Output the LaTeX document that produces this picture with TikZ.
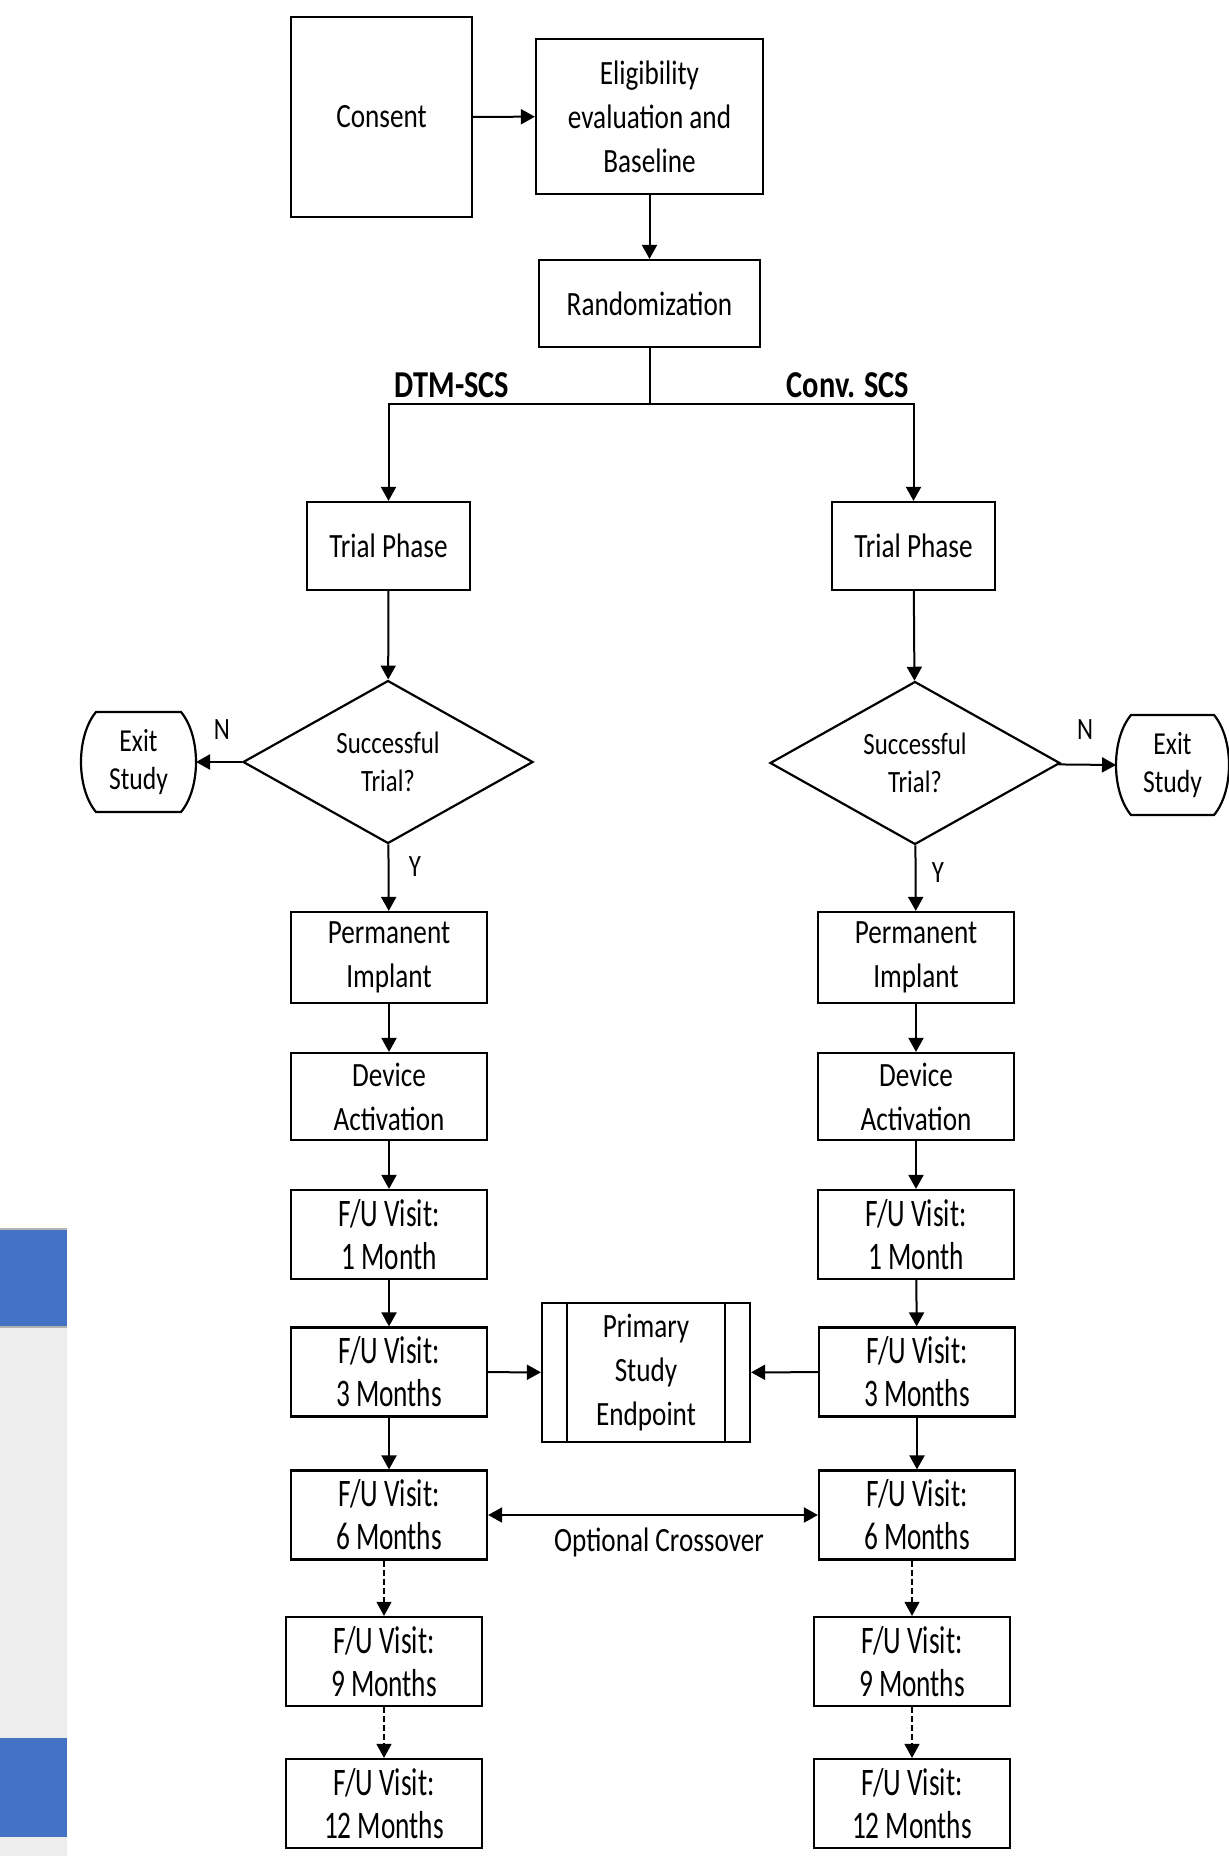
\documentclass[tikz,border=0pt]{standalone}
\usepackage{fontspec}
\setmainfont{Carlito}[FakeStretch=0.8]
\newfontfamily\fufont{Carlito}[FakeStretch=0.7]
\usepackage{tikz}
\usetikzlibrary{arrows.meta, shapes.geometric}
\definecolor{barblue}{HTML}{4472C4}
\definecolor{bargray}{HTML}{EDEDED}

\begin{document}
\begin{tikzpicture}[x=0.5pt, y=-0.5pt, >={Triangle[length=7pt,width=7.5pt]}, line width=1pt,
    box/.style={draw, line width=1.1pt, align=center, inner sep=0pt, minimum width=98pt,
      minimum height=44.5pt, font=\fontsize{17}{22}\selectfont},
    fubox/.style={box, font=\fufont\fontsize{19.5}{21.5}\selectfont},
    decision/.style={diamond, draw, line width=1.1pt, align=center, inner sep=0pt,
      minimum width=145pt, minimum height=80pt, font=\fontsize{15.5}{19}\selectfont},
    exitbox/.style={align=center, inner sep=0pt, minimum width=41.5pt, minimum height=49pt,
      font=\fontsize{16}{19}\selectfont},
    yn/.style={inner sep=0pt, font=\fontsize{15.5}{19}\selectfont},
    arm/.style={inner sep=0pt, font=\bfseries\fontsize{19}{22}\selectfont},
    dashedarrow/.style={->, dash pattern=on 3pt off 1.5pt, line width=0.6pt}]
        \useasboundingbox (0,0) rectangle (1228,1856);
        % side bars
        \fill[barblue] (0,1229) rectangle (67,1327);
        \fill[bargray] (0,1327) rectangle (67,1738);
        \fill[barblue] (0,1738) rectangle (67,1837);
        \fill[bargray] (0,1837) rectangle (67,1856);
        \draw[gray!60, line width=0.8pt] (0,1229) -- (67,1229) (0,1327) -- (67,1327);
        % enrolment
        \node[box, minimum width=90.5pt, minimum height=100pt] (consent) at (381.5,117) {Consent};
        \node[box, minimum width=113.5pt, minimum height=77.5pt] (elig) at (649.5,116.5) {Eligibility\\evaluation and\\Baseline};
        \node[box, minimum width=110.5pt, minimum height=43.5pt] (rand) at (649.5,303.5) {Randomization};
        \coordinate (split) at (649.5,404);
        \node[arm] (dtm) at (452,385) {DTM-SCS};
        \node[arm] (conv) at (848,385) {Conv. SCS};
        \node[box, minimum width=81.5pt, minimum height=44pt] (trialL) at (388.5,546) {Trial Phase};
        \node[box, minimum width=81.5pt, minimum height=44pt] (trialR) at (913.5,546) {Trial Phase};
        \draw[->] (consent) -- (elig);
        \draw[->] (elig) -- (rand);
        \draw (rand) -- (split);
        \draw[->] (split) -| (trialL);
        \draw[->] (split) -| (trialR);
        % DTM-SCS arm
        \node[decision] (decL) at (388,762) {Successful\\Trial?};
        \node[exitbox] (exitL) at (138.5,762) {Exit\\Study};
        \draw[line width=1.1pt] (exitL.north west) -- (exitL.north east)
          .. controls ([xshift=10pt,yshift=-12pt]exitL.north east) and ([xshift=10pt,yshift=12pt]exitL.south east) .. (exitL.south east)
          -- (exitL.south west)
          .. controls ([xshift=-10pt,yshift=12pt]exitL.south west) and ([xshift=-10pt,yshift=-12pt]exitL.north west) .. cycle;
        \node[yn] (nL) at (222,730) {N};
        \node[yn] (yL) at (415,867) {Y};
        \node[box, minimum height=45.5pt] (permL) at (389,957.5) {Permanent\\Implant};
        \node[box, minimum height=43.5pt] (actL) at (389,1096.5) {Device\\Activation};
        \node[fubox] (m1L) at (389,1234.5) {F/U Visit:\\1 Month};
        \node[fubox] (m3L) at (389,1372) {F/U Visit:\\3 Months};
        \node[fubox] (m6L) at (389,1515) {F/U Visit:\\6 Months};
        \node[fubox] (m9L) at (384,1661.5) {F/U Visit:\\9 Months};
        \node[fubox] (m12L) at (384,1803.5) {F/U Visit:\\12 Months};
        \draw[->] (trialL) -- (decL);
        \draw[->] (decL) -- ([xshift=7.5pt]exitL.east);
        \draw[->] (decL) -- (permL);
        \draw[->] (permL) -- (actL);
        \draw[->] (actL) -- (m1L);
        \draw[->] (m1L) -- (m3L);
        \draw[->] (m3L) -- (m6L);
        \draw[dashedarrow] (m6L.south -| m9L) -- (m9L);
        \draw[dashedarrow] (m9L) -- (m12L);
        % Conv. SCS arm
        \node[decision] (decR) at (915,763) {Successful\\Trial?};
        \node[exitbox, minimum width=40.5pt] (exitR) at (1172.5,765) {Exit\\Study};
        \draw[line width=1.1pt] (exitR.north west) -- (exitR.north east)
          .. controls ([xshift=10pt,yshift=-12pt]exitR.north east) and ([xshift=10pt,yshift=12pt]exitR.south east) .. (exitR.south east)
          -- (exitR.south west)
          .. controls ([xshift=-10pt,yshift=12pt]exitR.south west) and ([xshift=-10pt,yshift=-12pt]exitR.north west) .. cycle;
        \node[yn] (nR) at (1085,730) {N};
        \node[yn] (yR) at (938,873) {Y};
        \node[box, minimum height=45.5pt] (permR) at (916,957.5) {Permanent\\Implant};
        \node[box, minimum height=43.5pt] (actR) at (916,1096.5) {Device\\Activation};
        \node[fubox] (m1R) at (916,1234.5) {F/U Visit:\\1 Month};
        \node[fubox] (m3R) at (917,1372) {F/U Visit:\\3 Months};
        \node[fubox] (m6R) at (917,1515) {F/U Visit:\\6 Months};
        \node[fubox] (m9R) at (912,1661.5) {F/U Visit:\\9 Months};
        \node[fubox] (m12R) at (912,1803.5) {F/U Visit:\\12 Months};
        \draw[->] (trialR) -- (decR);
        \draw[->] (decR) -- ([xshift=-7.5pt]exitR.west);
        \draw[->] (decR) -- (permR);
        \draw[->] (permR) -- (actR);
        \draw[->] (actR) -- (m1R);
        \draw[->] (m1R) -- (m3R);
        \draw[->] (m3R) -- (m6R);
        \draw[dashedarrow] (m6R.south -| m9R) -- (m9R);
        \draw[dashedarrow] (m9R) -- (m12R);
        % primary endpoint and crossover
        \node[box, minimum width=104pt, minimum height=69.5pt] (prim) at (646,1372.5) {Primary\\Study\\Endpoint};
        \draw ([xshift=13pt]prim.north west) -- ([xshift=13pt]prim.south west);
        \draw ([xshift=-13pt]prim.north east) -- ([xshift=-13pt]prim.south east);
        \draw[->] (m3L) -- (prim);
        \draw[->] (m3R) -- (prim);
        \draw[<->] (m6L) -- (m6R);
        \node[inner sep=0pt, font=\fontsize{17}{22}\selectfont] (cross) at (659,1542) {Optional Crossover};
    \end{tikzpicture}
\end{document}
